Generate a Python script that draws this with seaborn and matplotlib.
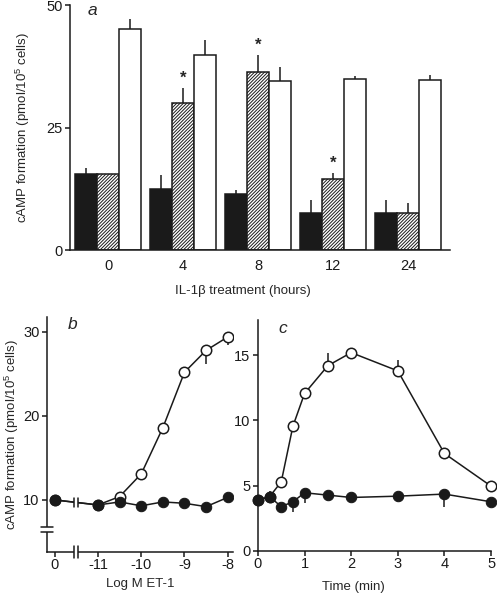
import numpy as np
import pandas as pd
import matplotlib
matplotlib.use('Agg')
import matplotlib.pyplot as plt
import seaborn as sns
from matplotlib.patches import Rectangle

# Estilo
sns.set_theme(style='ticks')
plt.rcParams['font.family'] = ['Liberation Sans', 'DejaVu Sans']
plt.rcParams['mathtext.fontset'] = 'custom'
plt.rcParams['mathtext.rm'] = 'Liberation Sans'
plt.rcParams['mathtext.it'] = 'Liberation Sans:italic'
plt.rcParams['hatch.linewidth'] = 0.7

# ============================================================================
# DATOS
# ============================================================================
# Panel a: barras por tiempo de tratamiento con IL-1b
horas = ['0', '4', '8', '12', '24']
barra_negra = [15.5, 12.6, 11.5, 7.5, 7.5]
barra_negra_err = [1.2, 2.7, 0.7, 2.7, 2.7]
barra_rayada = [15.5, 30.0, 36.3, 14.5, 7.7]
barra_rayada_err = [0.0, 3.1, 3.5, 1.2, 1.9]
barra_blanca = [45.2, 39.8, 34.5, 35.0, 34.7]
barra_blanca_err = [2.1, 3.2, 2.9, 0.6, 1.0]
significativo = [False, True, True, True, False]

# Panel b: curva dosis-respuesta ET-1 (0 = sin ET-1)
log_et1 = [0, -11, -10.5, -10, -9.5, -9, -8.5, -8]
b_abierto = [10.0, 9.4, 10.4, 13.1, 18.6, 25.2, 27.8, 29.4]
b_abierto_err = [0, 0, 0, 0, 0, 0, -1.6, -1.0]
b_lleno = [10.0, 9.4, 9.76, 9.3, 9.76, 9.6, 9.2, 10.3]
b_lleno_err = [0, 0, 0, 0, 0, -0.5, 0, 0.3]

# Panel c: curso temporal
tiempo = [0, 0.25, 0.5, 0.75, 1, 1.5, 2, 3, 4, 5]
c_abierto = [3.9, 4.16, 5.3, 9.56, 12.07, 14.2, 15.2, 13.8, 7.47, 4.97]
c_abierto_err = [0, 0, 0, 0, 0, 1.0, 0, 0.8, 0, 0]
c_lleno = [3.9, 4.16, 3.4, 3.77, 4.46, 4.28, 4.1, 4.2, 4.36, 3.77]
c_lleno_err = [0, 0.4, 0, -0.8, -0.8, 0, 0, 0, -1.0, 0]

ylabel = 'cAMP formation (pmol/10$^{5}$ cells)'
FS = 9.5
FS_TICK = 10.5
NEGRO = '#1a1a1a'

fig = plt.figure(figsize=(4.97, 6.0), dpi=100)
ax_a = fig.add_axes([0.141, 0.583, 0.765, 0.408])
ax_b = fig.add_axes([0.0946, 0.08, 0.374, 0.392])
ax_c = fig.add_axes([0.519, 0.0817, 0.469, 0.385])


def err_lados(err):
    err = np.asarray(err, dtype=float)
    return [np.where(err < 0, -err, 0), np.where(err > 0, err, 0)]


def estilo_ejes(ax):
    sns.despine(ax=ax)
    for s in ['left', 'bottom']:
        ax.spines[s].set_linewidth(1.1)
        ax.spines[s].set_color(NEGRO)
    ax.tick_params(direction='out', length=3.5, width=1.1, labelsize=FS_TICK,
                   colors=NEGRO, pad=2)


# ============================================================================
# PANEL A
# ============================================================================
grupos = ['negra', 'rayada', 'blanca']
df_a = pd.DataFrame({
    'hora': horas * 3,
    'valor': barra_negra + barra_rayada + barra_blanca,
    'grupo': ['negra'] * 5 + ['rayada'] * 5 + ['blanca'] * 5,
})
sns.barplot(data=df_a, x='hora', y='valor', hue='grupo', hue_order=grupos,
            palette={'negra': NEGRO, 'rayada': 'white', 'blanca': 'white'},
            width=0.88, saturation=1, edgecolor=NEGRO, linewidth=1.1,
            errorbar=None, legend=False, ax=ax_a)

for bar in ax_a.containers[1]:
    bar.set_hatch('/' * 10)

for i, (cont, errs) in enumerate(zip(ax_a.containers,
                                     [barra_negra_err, barra_rayada_err, barra_blanca_err])):
    xs = [b.get_x() + b.get_width() / 2 for b in cont]
    hs = [b.get_height() for b in cont]
    ax_a.errorbar(xs, hs, yerr=err_lados(errs), fmt='none', ecolor=NEGRO,
                  elinewidth=1.1, capsize=0, zorder=1)
    if i == 1:
        for x, h, e, sig in zip(xs, hs, errs, significativo):
            if sig:
                ax_a.annotate('*', (x, h + e), xytext=(0, 2), textcoords='offset points',
                              ha='center', va='bottom', fontsize=12, fontweight='bold')

ax_a.set_ylim(0, 50)
ax_a.set_yticks([0, 25, 50])
ax_a.set_xlim(-0.507, 4.56)
estilo_ejes(ax_a)
ax_a.tick_params(axis='x', length=0, pad=6)
ax_a.set_ylabel(ylabel, fontsize=FS)
ax_a.yaxis.set_label_coords(-0.1, 0.5)
ax_a.set_xlabel('IL-1β treatment (hours)', fontsize=FS)
ax_a.xaxis.set_label_coords(0.455, -0.143)
ax_a.text(0.045, 0.98, 'a', transform=ax_a.transAxes, fontsize=12.5, style='italic', va='center')

# ============================================================================
# PANEL B
# ============================================================================
POS_CERO = -12.0  # posición en el eje del punto sin ET-1
x_b = np.where(np.array(log_et1) == 0, POS_CERO, log_et1)

kw_ab = dict(marker='o', color=NEGRO, markersize=7.5, markerfacecolor='white',
             markeredgecolor=NEGRO, markeredgewidth=1.1, linewidth=1.1,
             estimator=None, sort=False)
kw_ll = dict(marker='o', color=NEGRO, markersize=7.5, markerfacecolor=NEGRO,
             markeredgecolor=NEGRO, linewidth=1.1, estimator=None, sort=False)

ax_b.errorbar(x_b, b_abierto, yerr=err_lados(b_abierto_err), fmt='none', ecolor=NEGRO,
              elinewidth=1.1, capsize=0, zorder=1)
sns.lineplot(x=x_b, y=b_abierto, ax=ax_b, zorder=2, **kw_ab)
ax_b.errorbar(x_b, b_lleno, yerr=err_lados(b_lleno_err), fmt='none', ecolor=NEGRO,
              elinewidth=1.1, capsize=0, zorder=3)
sns.lineplot(x=x_b, y=b_lleno, ax=ax_b, zorder=4, **kw_ll)

ax_b.set_xlim(-12.18, -7.88)
ax_b.set_ylim(3.8, 31.8)
ax_b.set_xticks([POS_CERO, -11, -10, -9, -8])
ax_b.set_xticklabels(['0', '-11', '-10', '-9', '-8'])
ax_b.set_yticks([10, 20, 30])
estilo_ejes(ax_b)
ax_b.tick_params(axis='x', pad=1)
ax_b.set_ylabel(ylabel, fontsize=FS)
ax_b.yaxis.set_label_coords(-0.14, 0.5)
ax_b.set_xlabel('Log M ET-1', fontsize=FS)
ax_b.xaxis.set_label_coords(0.5, -0.11)
ax_b.text(0.11, 0.966, 'b', transform=ax_b.transAxes, fontsize=12.5, style='italic', va='center')

# cortes de eje
corte_x = -11.5
y_corte = np.interp(corte_x, [POS_CERO, -11], [b_lleno[0], b_lleno[1]])
ax_b.add_patch(Rectangle((corte_x - 0.045, y_corte - 0.5), 0.09, 1.0, facecolor='white',
                         edgecolor='none', zorder=5))
for dx in (-0.045, 0.045):
    ax_b.plot([corte_x + dx] * 2, [y_corte - 0.5, y_corte + 0.5], color=NEGRO, lw=1.1, zorder=6)

trans_x = ax_b.get_xaxis_transform()
ax_b.add_patch(Rectangle((corte_x - 0.045, -0.01), 0.09, 0.02, transform=trans_x,
                         facecolor='white', edgecolor='none', zorder=5, clip_on=False))
for dx in (-0.045, 0.045):
    ax_b.plot([corte_x + dx] * 2, [-0.025, 0.025], transform=trans_x, color=NEGRO,
              lw=1.1, zorder=6, clip_on=False)

ax_b.add_patch(Rectangle((-0.015, 0.085), 0.03, 0.021, transform=ax_b.transAxes,
                         facecolor='white', edgecolor='none', zorder=5, clip_on=False))
for yy in (0.085, 0.106):
    ax_b.plot([-0.03, 0.03], [yy, yy], transform=ax_b.transAxes, color=NEGRO,
              lw=1.1, zorder=6, clip_on=False)

# ============================================================================
# PANEL C
# ============================================================================
ax_c.errorbar(tiempo, c_abierto, yerr=err_lados(c_abierto_err), fmt='none', ecolor=NEGRO,
              elinewidth=1.1, capsize=0, zorder=1, clip_on=False)
sns.lineplot(x=tiempo, y=c_abierto, ax=ax_c, zorder=2, clip_on=False, **kw_ab)
ax_c.errorbar(tiempo, c_lleno, yerr=err_lados(c_lleno_err), fmt='none', ecolor=NEGRO,
              elinewidth=1.1, capsize=0, zorder=3, clip_on=False)
sns.lineplot(x=tiempo, y=c_lleno, ax=ax_c, zorder=4, clip_on=False, **kw_ll)

ax_c.set_xlim(0, 5)
ax_c.set_ylim(0, 17.7)
ax_c.set_xticks([0, 1, 2, 3, 4, 5])
ax_c.set_yticks([0, 5, 10, 15])
estilo_ejes(ax_c)
ax_c.tick_params(axis='x', pad=1)
ax_c.set_ylabel('')
ax_c.set_xlabel('Time (min)', fontsize=FS)
ax_c.xaxis.set_label_coords(0.41, -0.13)
ax_c.text(0.086, 0.965, 'c', transform=ax_c.transAxes, fontsize=12.5, style='italic', va='center')

fig.savefig('out.png', dpi=100)
